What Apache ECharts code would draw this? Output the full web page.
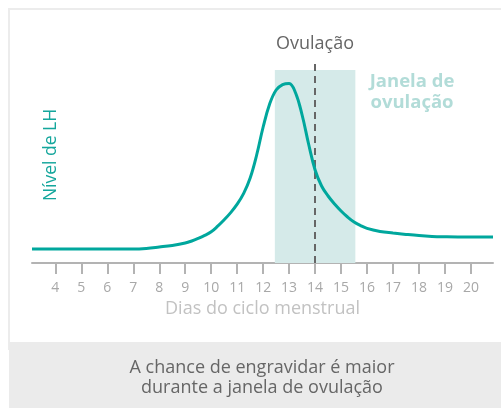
<!DOCTYPE html>
<html>
<head>
<meta charset="utf-8">
<script src="https://cdn.jsdelivr.net/npm/echarts@6/dist/echarts.min.js"></script>
<style>
  html, body { margin: 0; padding: 0; background: #fff; }
  #main { width: 501px; height: 408px; }
</style>
</head>
<body>
<div id="main"></div>
<script>
// dias do ciclo (eixo x) e nível de LH
var days = [3.1, 3.5, 4, 4.5, 5, 5.5, 6, 6.5, 7, 7.5, 8, 8.5,
    9, 9.25, 9.5, 9.75, 10, 10.25, 10.5, 10.75, 11, 11.25, 11.5, 11.75,
    12, 12.25, 12.5, 12.75, 13, 13.25, 13.5, 13.75, 14, 14.25, 14.5, 14.75,
    15, 15.25, 15.5, 15.75, 16, 16.5, 17, 17.5, 18, 18.5, 19, 19.5, 20, 20.5, 20.85];
var lh = [7, 7, 7, 7, 7, 7, 7, 7, 7, 7.3, 8, 8.8,
    10, 11, 12.3, 13.8, 15.6, 18.4, 21.6, 25.2, 29.4, 34.8, 42.5, 54,
    68, 79.5, 86.5, 89.2, 89.8, 85, 74, 59.5, 46.5, 38.5, 33.5, 29.5,
    26, 23, 20.5, 18.7, 17.3, 15.8, 15, 14.3, 13.7, 13.3, 13.1, 13, 13, 13, 13];
var tickDays = [4, 5, 6, 7, 8, 9, 10, 11, 12, 13, 14, 15, 16, 17, 18, 19, 20];
var ovulationDay = 14;
var windowDays = [12.45, 15.55];

var font = '"Open Sans", sans-serif';
var chart = echarts.init(document.getElementById('main'));

var option = {
    animation: false,
    backgroundColor: '#fff',
    grid: { left: 32, right: 8, top: 43, bottom: 145 },
    xAxis: {
        type: 'value',
        min: 3.1,
        max: 20.85,
        name: 'Dias do ciclo menstrual',
        nameLocation: 'middle',
        nameGap: 37,
        nameTextStyle: { color: '#c2c2c2', fontSize: 18, fontFamily: font },
        axisLine: { lineStyle: { color: '#b3b3b3', width: 2 } },
        axisTick: { customValues: tickDays, length: 11, lineStyle: { color: '#b3b3b3', width: 2 } },
        axisLabel: { customValues: tickDays, margin: 18, color: '#a8a8a8', fontSize: 14, fontFamily: font },
        splitLine: { show: false }
    },
    yAxis: {
        type: 'value',
        min: 0,
        max: 110,
        show: false
    },
    graphic: [
        // moldura
        { type: 'rect', shape: { x: 9, y: 9, width: 500, height: 340 }, style: { fill: 'none', stroke: '#ececec', lineWidth: 2 }, z: -10 },
        { type: 'rect', shape: { x: 9, y: 342, width: 492, height: 66 }, style: { fill: '#ebebeb' }, z: -5 },
        { type: 'text', x: 262, y: 368, style: { text: 'A chance de engravidar é maior', fill: '#666', fontSize: 18, fontFamily: font, align: 'center', verticalAlign: 'middle' } },
        { type: 'text', x: 262, y: 388, style: { text: 'durante a janela de ovulação', fill: '#666', fontSize: 18, fontFamily: font, align: 'center', verticalAlign: 'middle' } },
        { type: 'text', x: 315, y: 44, style: { text: 'Ovulação', fill: '#666', fontSize: 18, fontFamily: font, align: 'center', verticalAlign: 'middle' } },
        { type: 'text', x: 412, y: 82, style: { text: 'Janela de', fill: '#b2dcd8', fontSize: 18.5, fontWeight: 'bold', fontFamily: font, align: 'center', verticalAlign: 'middle' } },
        { type: 'text', x: 412, y: 103, style: { text: 'ovulação', fill: '#b2dcd8', fontSize: 18.5, fontWeight: 'bold', fontFamily: font, align: 'center', verticalAlign: 'middle' } },
        { type: 'text', x: 51, y: 155, rotation: Math.PI / 2, style: { text: 'Nível de LH', fill: '#14a69c', fontSize: 17.5, fontFamily: font, align: 'center', verticalAlign: 'middle' } }
    ],
    series: [
        {
            type: 'line',
            data: days.map(function (d, i) { return [d, lh[i]]; }),
            smooth: 0.4,
            showSymbol: false,
            clip: false,
            lineStyle: { color: '#00a79d', width: 3 },
            z: 5,
            markArea: {
                silent: true,
                itemStyle: { color: '#d5eae9' },
                data: [[{ xAxis: windowDays[0], yAxis: 0 }, { xAxis: windowDays[1], yAxis: 96.5 }]]
            },
            markLine: {
                silent: true,
                symbol: 'none',
                label: { show: false },
                lineStyle: { color: '#666', type: [7, 5], width: 2 },
                data: [[{ xAxis: ovulationDay, yAxis: 0 }, { xAxis: ovulationDay, yAxis: 100.5 }]]
            }
        }
    ]
};

chart.setOption(option);
</script>
</body>
</html>
